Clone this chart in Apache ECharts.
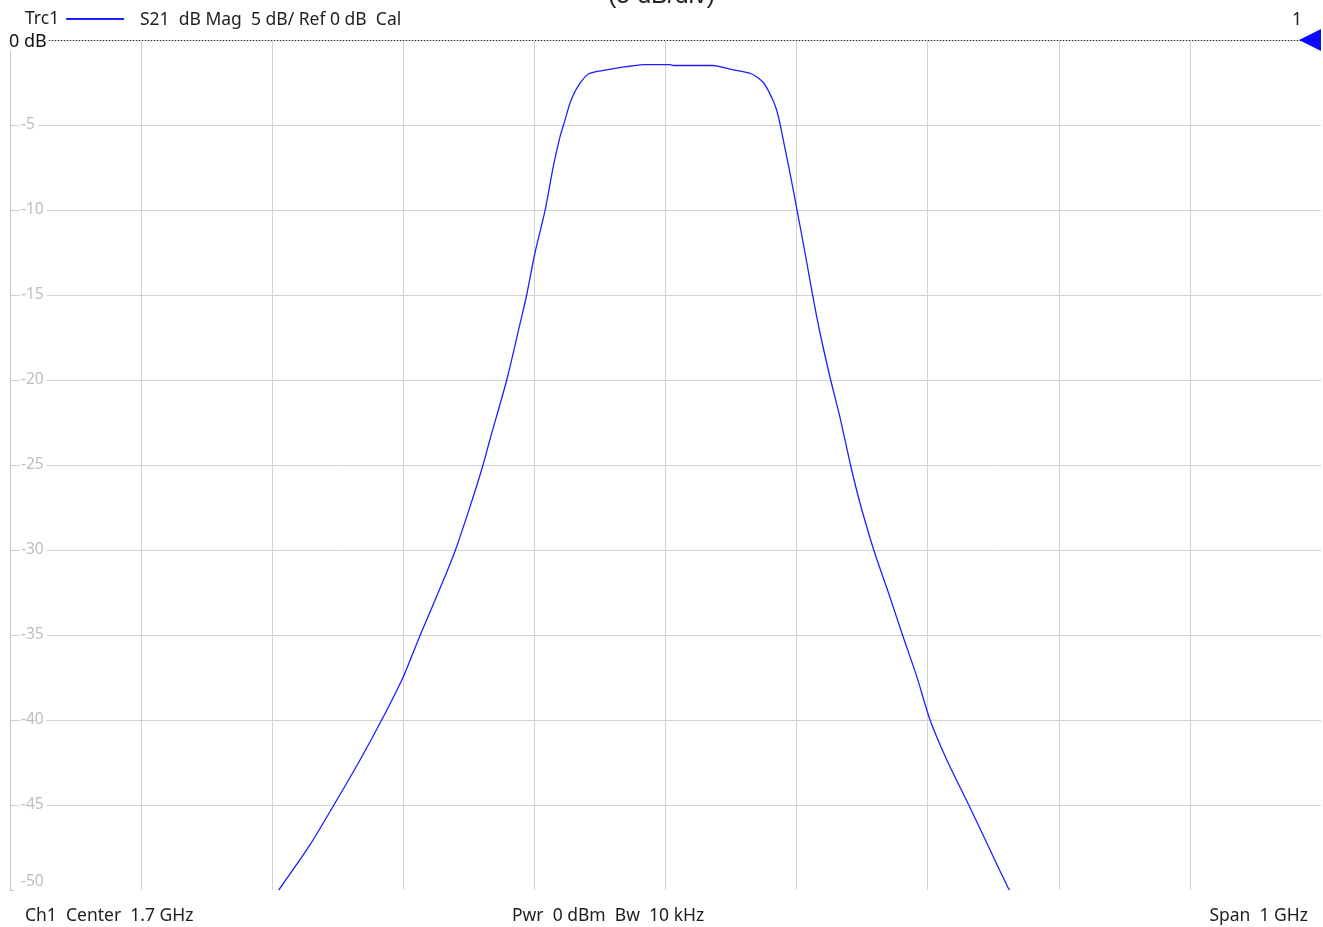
<!DOCTYPE html>
<html>
<head>
<meta charset="utf-8">
<title>S21 dB Mag</title>
<script src="https://cdn.jsdelivr.net/npm/echarts@6/dist/echarts.min.js"></script>
<style>
  html, body { margin: 0; padding: 0; background: #ffffff; }
  #main { width: 1323px; height: 927px; }
</style>
</head>
<body>
<div id="main"></div>
<script>
// frequency in MHz (center 1.7 GHz, span 1 GHz)
var freqMHz = [
  1405, 1428.8, 1446.6, 1467, 1483.5, 1500, 1512.7, 1530.5, 1539.5, 1550.9,
  1560.6, 1566.1, 1578.9, 1589, 1594.1, 1600.5, 1608.1, 1614.4, 1619.5, 1623.4,
  1627.2, 1632.3, 1641.1, 1655.2, 1670.4, 1683.1, 1703.5, 1706, 1736.5, 1749.2,
  1765.8, 1774.6, 1782.3, 1786.1, 1789.9, 1795, 1800.4, 1806.4, 1812.3, 1817.9,
  1826, 1833.1, 1841.3, 1848.4, 1859.1, 1870, 1881, 1891.7, 1901.8, 1914.6,
  1931.7, 1947.6, 1961.5, 1962.5
];
// S21 magnitude in dB
var s21dB = [
  -50, -47.35, -45.06, -42.35, -40, -37.45, -35.04, -31.8, -30.06, -27.45,
  -25.06, -23.5, -20, -16.7, -15, -12.5, -10.04, -7.45, -5.7, -4.7,
  -3.7, -2.84, -2.0, -1.76, -1.57, -1.45, -1.45, -1.5, -1.5, -1.72,
  -2.0, -2.5, -3.6, -4.5, -5.9, -7.84, -10.04, -12.5, -15.04, -17.25,
  -20, -22.2, -25.06, -27.25, -30.06, -32.5, -35.04, -37.45, -40, -42.35,
  -45.06, -47.65, -49.9, -50
];
var yTicks = [0, -5, -10, -15, -20, -25, -30, -35, -40, -45, -50];
var refLevel = 0;
var markerFreq = 2200;

var font = "'Noto Sans', 'Open Sans', sans-serif";
var textColor = "#1e1e1e";
var gridColor = "#d2d2d2";

var points = freqMHz.map(function (f, i) {
  return [f, s21dB[i]];
});

var myChart = echarts.init(document.getElementById("main"));

myChart.setOption({
  backgroundColor: "#ffffff",
  animation: false,
  textStyle: { fontFamily: font },
  grid: { left: 10, right: 2, top: 40, bottom: 37, containLabel: false },
  legend: {
    left: 25,
    top: 10,
    padding: 0,
    align: "right",
    icon: "rect",
    itemWidth: 58,
    itemHeight: 2,
    data: ["Trc1"],
    textStyle: { fontSize: 17.5, color: textColor, fontFamily: font, padding: [0, 2, 0, 0] },
  },
  xAxis: {
    type: "value",
    min: 1200,
    max: 2200,
    interval: 100,
    axisLabel: { show: false },
    axisTick: { show: false },
    axisLine: { show: true, lineStyle: { color: "#c8c8c8", width: 1 } },
    splitLine: {
      show: true,
      showMinLine: false,
      showMaxLine: false,
      lineStyle: { color: gridColor, width: 1 },
    },
  },
  yAxis: {
    type: "value",
    min: -50,
    max: 0,
    interval: 5,
    axisLine: { show: true, lineStyle: { color: "#c8c8c8", width: 1 } },
    axisTick: { show: true, inside: true, length: 4, lineStyle: { color: "#c8c8c8" } },
    axisLabel: {
      inside: true,
      margin: 10,
      formatter: function (v) {
        if (yTicks.indexOf(v) < 0 || v === 0) return "";
        if (v === -50) return "{n|" + v + "}\n ";
        return "{n|" + v + "}";
      },
      rich: {
        n: {
          color: "#bdbdbd",
          fontSize: 15.5,
          fontFamily: font,
          backgroundColor: "#ffffff",
          padding: [0, 3, 0, 1],
        },
      },
      lineHeight: 16,
    },
    splitLine: {
      show: true,
      showMinLine: false,
      showMaxLine: false,
      lineStyle: { color: gridColor, width: 1 },
    },
  },
  series: [
    {
      name: "Trc1",
      type: "line",
      data: points,
      showSymbol: false,
      symbol: "none",
      smooth: 0.25,
      clip: true,
      color: "#1f1fff",
      lineStyle: { color: "#1f1fff", width: 1.3 },
      markLine: {
        silent: true,
        symbol: "none",
        label: { show: false },
        lineStyle: { color: "#222222", type: [1, 2], width: 1 },
        data: [{ yAxis: refLevel }],
      },
      markPoint: {
        silent: true,
        symbol: "triangle",
        symbolRotate: 90,
        symbolSize: [22, 22],
        symbolOffset: [-11, 0],
        itemStyle: { color: "#0a0aff" },
        label: { show: false },
        data: [{ coord: [markerFreq, refLevel] }],
      },
    },
  ],
  graphic: [
    {
      type: "text",
      z: 100,
      left: 608,
      top: -16,
      style: { text: "(5 dB/div)", font: "25px 'Liberation Sans', Arial, sans-serif", fill: "#222222" },
    },
    {
      type: "text",
      z: 100,
      left: 140,
      top: 11,
      style: { text: "S21  dB Mag  5 dB/ Ref 0 dB  Cal", font: "17.5px " + font, fill: textColor },
    },
    {
      type: "text",
      z: 100,
      left: 1292,
      top: 11,
      style: { text: "1", font: "17.5px " + font, fill: textColor },
    },
    {
      type: "text",
      z: 100,
      left: 9,
      top: 33,
      style: {
        text: "0 dB",
        font: "18px " + font,
        fill: "#111111",
        backgroundColor: "#ffffff",
        padding: [0, 1, 0, 0],
      },
    },
    {
      type: "text",
      z: 100,
      left: 25,
      top: 907,
      style: { text: "Ch1  Center  1.7 GHz", font: "17.5px " + font, fill: textColor },
    },
    {
      type: "text",
      z: 100,
      left: 512,
      top: 907,
      style: { text: "Pwr  0 dBm  Bw  10 kHz", font: "17.5px " + font, fill: textColor },
    },
    {
      type: "text",
      z: 100,
      right: 15,
      top: 907,
      style: { text: "Span  1 GHz", font: "17.5px " + font, fill: textColor },
    },
  ],
});
</script>
</body>
</html>
